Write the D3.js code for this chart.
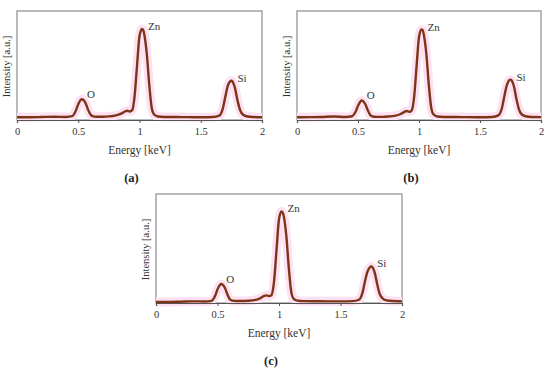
<!DOCTYPE html>
<html>
<head>
<meta charset="utf-8">
<script src="https://cdn.jsdelivr.net/npm/d3@7"></script>
<style>
  body { margin: 0; background: #fff; }
  svg { display: block; font-family: "Liberation Serif", "DejaVu Serif", serif; }
</style>
</head>
<body>
<svg id="chart" width="550" height="373"></svg>
<script>
// energy grid (keV) shared by the three spectra
var energy = [0, 0.1, 0.2, 0.3, 0.4, 0.45, 0.48, 0.5, 0.52, 0.53, 0.54, 0.56, 0.58, 0.6, 0.62, 0.65,
  0.7, 0.75, 0.8, 0.85, 0.88, 0.9, 0.92, 0.94, 0.96, 0.98, 1.0, 1.02, 1.03, 1.04, 1.06, 1.08, 1.1,
  1.12, 1.15, 1.2, 1.3, 1.4, 1.5, 1.6, 1.65, 1.68, 1.7, 1.72, 1.74, 1.75, 1.76, 1.78, 1.8, 1.82,
  1.85, 1.9, 2.0];

// intensities (arbitrary units, 0-100)
var intensityA = [2.5, 2.5, 2.7, 3, 2.8, 3.5, 8.5, 14.5, 18.5, 19, 18.5, 15.5, 9.5, 5, 3.4, 3,
  3, 3.3, 4, 5.8, 7.8, 8.5, 7.8, 9, 22, 50, 77, 83.5, 82.5, 78, 60, 32, 11,
  5, 3.2, 2.8, 2.7, 2.6, 2.5, 2.7, 4, 10.5, 21, 31, 35.5, 36, 35.2, 29, 18, 9.5,
  4.5, 3, 2.5];
var intensityB = [2.5, 2.6, 2.8, 3.2, 2.8, 3.4, 7.5, 13, 17, 18, 17.5, 14.5, 9, 4.6, 3.2, 2.9,
  2.9, 3.2, 3.8, 5.5, 7.5, 8.2, 7.5, 8.8, 21, 49, 76, 83, 82.5, 78, 61, 33, 11.5,
  5, 3.2, 2.8, 2.7, 2.6, 2.5, 2.7, 4.2, 11, 22, 32, 36.5, 37, 36.2, 30, 18.5, 9.5,
  4.5, 3, 2.6];
var intensityC = [1, 1, 1.2, 1.5, 1.4, 2, 6.5, 12.5, 16.5, 17.5, 17, 14, 8, 3.4, 2.2, 1.8,
  1.8, 2, 2.6, 4.5, 6.5, 7, 6.3, 7.5, 20, 49, 77, 84, 83, 79, 61, 32, 10,
  3.8, 2.2, 1.7, 1.6, 1.5, 1.5, 1.7, 3, 10, 20.5, 29, 33, 33.5, 32.8, 27, 16.5, 8,
  3.5, 2, 1.5];

var xTicks = [0, 0.5, 1, 1.5, 2];
var peakNames = ["O", "Zn", "Si"];
var peakEnergy = [0.53, 1.02, 1.75];

var panels = [
  { label: "(a)", values: intensityA, left: 17, top: 11, width: 245, height: 109 },
  { label: "(b)", values: intensityB, left: 297, top: 11, width: 244, height: 109 },
  { label: "(c)", values: intensityC, left: 156, top: 194, width: 246, height: 109 }
];

var svg = d3.select("#chart");

function drawPanel(p) {
  var g = svg.append("g").attr("transform", "translate(" + p.left + "," + p.top + ")");

  var x = d3.scaleLinear().domain([0, 2]).range([0, p.width]);
  var y = d3.scaleLinear().domain([0, 100]).range([p.height, 0]);

  var pts = energy.map(function (e, i) { return [e, p.values[i]]; });
  var line = d3.line()
    .x(function (d) { return x(d[0]); })
    .y(function (d) { return y(d[1]); })
    .curve(d3.curveMonotoneX);

  // frame
  g.append("rect")
    .attr("x", 0).attr("y", 0)
    .attr("width", p.width).attr("height", p.height)
    .attr("fill", "none")
    .attr("stroke", "#8c8c8c")
    .attr("stroke-width", 1.2);

  // pink halo under the trace
  g.append("path")
    .datum(pts)
    .attr("d", line)
    .attr("fill", "none")
    .attr("stroke", "#fce1f3")
    .attr("stroke-width", 9)
    .attr("stroke-linejoin", "round");

  g.append("path")
    .datum(pts)
    .attr("d", line)
    .attr("fill", "none")
    .attr("stroke", "#7e3417")
    .attr("stroke-width", 2.4)
    .attr("stroke-linejoin", "round");

  // x axis
  var ax = g.append("g")
    .attr("transform", "translate(0," + p.height + ")")
    .call(d3.axisBottom(x).tickValues(xTicks).tickSize(3).tickPadding(5)
      .tickFormat(function (d) { return d; }));
  ax.select(".domain").attr("stroke", "#555").attr("stroke-width", 1.2);
  ax.selectAll(".tick line").attr("stroke", "#555");
  ax.selectAll("text")
    .attr("font-size", 10.5)
    .attr("fill", "#333")
    .attr("font-family", "Liberation Serif, serif");

  g.append("text")
    .attr("x", p.width / 2)
    .attr("y", p.height + 34)
    .attr("text-anchor", "middle")
    .attr("font-size", 11.5)
    .attr("fill", "#333")
    .text("Energy [keV]");

  g.append("text")
    .attr("transform", "translate(-7," + (p.height / 2 + 1) + ") rotate(-90)")
    .attr("text-anchor", "middle")
    .attr("font-size", 10.5)
    .attr("fill", "#333")
    .text("Intensity [a.u.]");

  // peak labels
  peakNames.forEach(function (name, i) {
    var idx = energy.indexOf(peakEnergy[i]);
    g.append("text")
      .attr("x", x(peakEnergy[i]) + (name === "O" ? 5 : 6))
      .attr("y", y(p.values[idx]) + (name === "O" ? -1 : 1))
      .attr("font-size", 11)
      .attr("fill", "#333")
      .text(name);
  });

  g.append("text")
    .attr("x", p.width / 2 - 8)
    .attr("y", p.height + 62)
    .attr("text-anchor", "middle")
    .attr("font-size", 12.5)
    .attr("font-weight", "bold")
    .attr("fill", "#222")
    .text(p.label);
}

panels.forEach(drawPanel);
</script>
</body>
</html>
